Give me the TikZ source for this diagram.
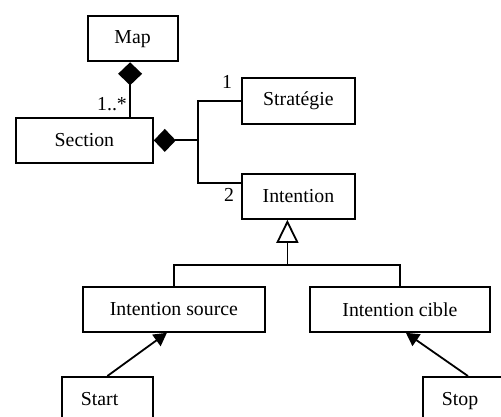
\documentclass[tikz,border=0pt]{standalone}
\usepackage{fontspec}
\setmainfont{Liberation Serif}
\usetikzlibrary{arrows.meta,calc}
\begin{document}
\begin{tikzpicture}[x=1pt,y=-1pt,line width=1.8pt,
  box/.style={draw,inner sep=0pt,anchor=north west,font=\fontsize{19.8}{24}\selectfont},
  leftbox/.style={box,align=left,inner ysep=0pt,text depth=0pt},
  lbl/.style={inner sep=0pt,font=\fontsize{19.8}{24}\selectfont},
  comp/.style={{Diamond[length=23pt,width=24pt]}-},
  gener/.style={-{Triangle[open,length=23pt,width=22pt]}},
  assoc/.style={-{Triangle[length=13pt,width=14pt]}}]
\clip (0,0) rectangle (501,417);
\node[box,minimum width=90pt,minimum height=45.5pt] (map) at (86.7,15) {Map};
\node[box,minimum width=137pt,minimum height=45pt] (section) at (15,117) {Section};
\node[box,minimum width=113pt,minimum height=46pt] (strat) at (241,77) {Stratégie};
\node[box,minimum width=113pt,minimum height=45pt] (intent) at (241,173) {Intention};
\node[box,minimum width=182pt,minimum height=45pt] (isrc) at (82,286) {Intention source};
\node[box,minimum width=180pt,minimum height=45pt] (icib) at (309,286) {Intention cible};
\node[leftbox,text width=53pt,inner xsep=19pt,minimum height=45pt] (start) at (61,376) {Start};
\node[leftbox,text width=52pt,inner xsep=19pt,minimum height=45pt] (stop) at (422,376) {Stop};
% composition Map - Section
\coordinate (mapb) at ($(map.south)+(-2.5,0)$);
\draw[comp] (mapb) -- (mapb |- section.north);
\node[lbl] (m1) at (112,104) {1..*};
% composition Section - Strategie / Intention
\coordinate (jn) at ($(section.east)+(44,0)$);
\draw[{Diamond[length=22pt,width=23pt]}-] (section.east) -- (jn);
\coordinate (ia) at ($(intent.north west)+(0,10)$);
\draw (strat.west) -| (jn) |- (ia);
\node[lbl] (m2) at (227,82) {1};
\node[lbl] (m3) at (229,195) {2};
% generalisation
\coordinate (gen) at ($(intent.south)+(-11,45)$);
\draw[gener] (gen) -- (gen |- intent.south);
\draw (isrc.north) |- (gen) -| (icib.north);
% associations
\draw[assoc] (start.north) -- ($(isrc.south)+(-7,0)$);
\draw[assoc] (stop.north) -- ($(icib.south)+(6,0)$);
\end{tikzpicture}
\end{document}
